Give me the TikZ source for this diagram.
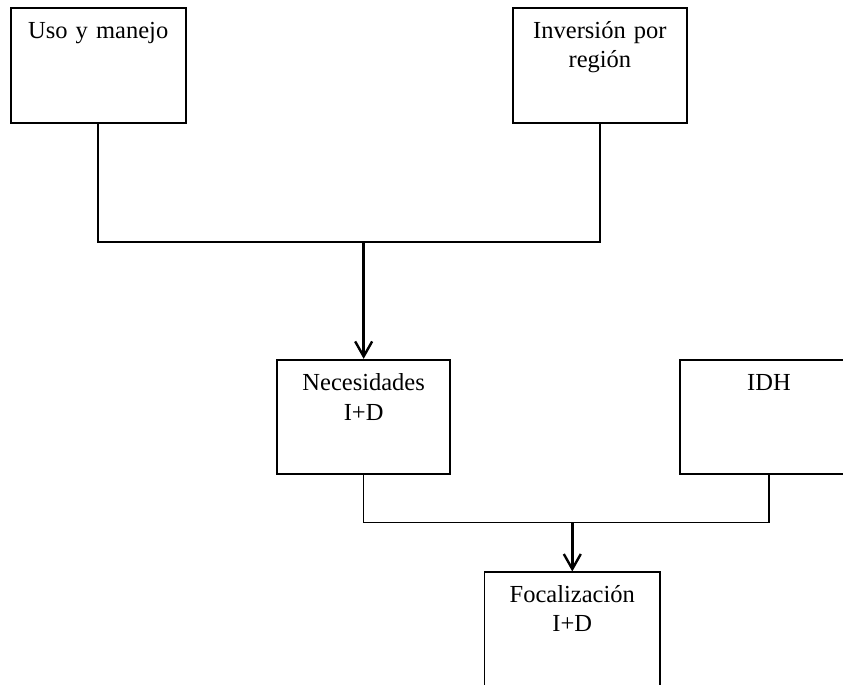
\documentclass[tikz,border=0pt]{standalone}
\usepackage{fontspec}
\setmainfont{Liberation Serif}
\usetikzlibrary{arrows.meta}
\begin{document}
\begin{tikzpicture}[x=1pt,y=-1pt,
  box/.style={draw, line width=1.8pt, inner sep=0pt, minimum height=114.5pt},
  txt/.style={font=\fontsize{24.5}{29.5}\selectfont, text width=168pt, align=center, inner sep=0pt, anchor=base},
  conn/.style={line width=1.5pt},
  arr/.style={line width=2.4pt, -{Straight Barb[length=15pt,width=17pt]}}]
\clip (0,0) rectangle (843,685);
\fill[white] (0,0) rectangle (843,685);
% boxes
\node[box, minimum width=175pt] (b1) at (98.2,65.6) {};
\node[box, minimum width=174.3pt] (b2) at (599.9,65.6) {};
\node[box, minimum width=172.7pt] (b3) at (363.65,417) {};
\node[box, minimum width=178pt] (b4) at (769,417) {};
\node[box, minimum width=175.5pt] (b5) at (572.3,629.6) {};
% texts
\node[txt] (t1) at ([yshift=-31pt]b1.north) {Uso y manejo};
\node[txt] (t2) at ([yshift=-31pt]b2.north) {Inversión por\\región};
\node[txt] (t3) at ([yshift=-32pt]b3.north) {Necesidades\\I+D};
\node[txt] (t4) at ([yshift=-32pt]b4.north) {IDH};
\node[txt] (t5) at ([yshift=-31pt]b5.north) {Focalización\\I+D};
% junctions
\coordinate (j1) at (363.65,242);
\coordinate (j2) at (572.3,522.5);
% connectors
\draw[conn] (b1.south) |- (j1) -| (b2.south);
\draw[arr] (j1) -- (b3.north);
\draw[conn] (b3.south) |- (j2) -| (b4.south);
\draw[arr] (j2) -- (b5.north);
\end{tikzpicture}
\end{document}
